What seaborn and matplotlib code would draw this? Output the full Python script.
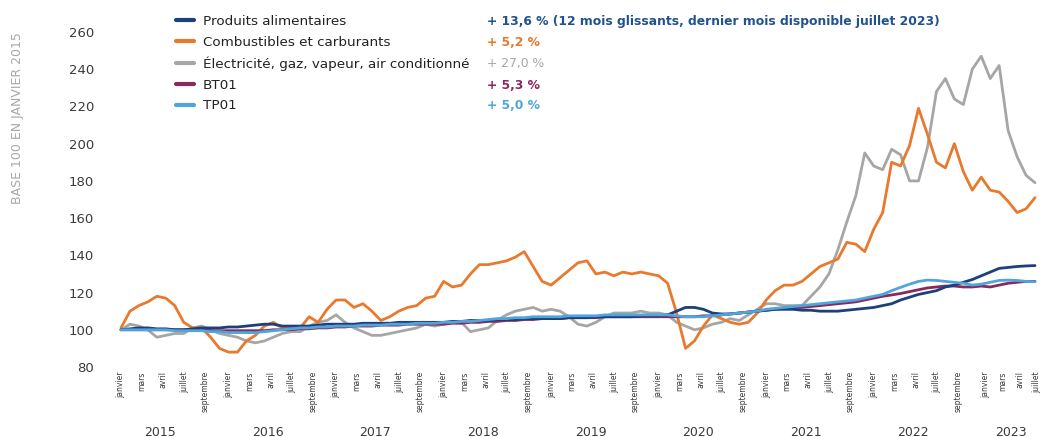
import numpy as np
import pandas as pd
import matplotlib
matplotlib.use("Agg")
import matplotlib.pyplot as plt
import seaborn as sns

# monthly index, janvier 2015 -> juillet 2023 (base 100 = janvier 2015)
months = np.arange(103)

alimentaires = [100, 100.5, 101, 101, 100.5, 100.5, 100, 100, 100.5, 101, 101, 101,
                101.5, 101.5, 102, 102.5, 103, 103, 102, 102, 102, 102, 102.5, 103,
                103, 103, 103, 103.5, 103.5, 103.5, 103.5, 104, 104, 104, 104, 104,
                104, 104.5, 104.5, 105, 105, 105, 105.5, 105.5, 105.5, 106, 106, 106,
                106, 106, 106.5, 106.5, 106.5, 107, 107, 107, 107, 107, 107.5, 107.5,
                107.5, 108, 110, 112, 112, 111, 109, 108.5, 108.5, 109, 109.5, 110,
                110.5, 111, 111, 111, 110.5, 110.5, 110, 110, 110, 110.5, 111, 111.5,
                112, 113, 114, 116, 117.5, 119, 120, 121, 123, 124, 125.5, 127,
                129, 131, 133, 133.5, 134, 134.3, 134.5]
combustibles = [101, 110, 113, 115, 118, 117, 113, 104, 101, 101, 96, 90,
                88, 88, 94, 97, 102, 104, 101, 101, 101, 107, 104, 111,
                116, 116, 112, 114, 110, 105, 107, 110, 112, 113, 117, 118,
                126, 123, 124, 130, 135, 135, 136, 137, 139, 142, 134, 126,
                124, 128, 132, 136, 137, 130, 131, 129, 131, 130, 131, 130,
                129, 125, 109, 90, 94, 102, 108, 106, 104, 103, 104, 109,
                116, 121, 124, 124, 126, 130, 134, 136, 138, 147, 146, 142,
                154, 163, 190, 188, 199, 219, 205, 190, 187, 200, 185, 175,
                182, 175, 174, 169, 163, 165, 171]
electricite = [100, 103, 102, 100, 96, 97, 98, 98, 101, 102, 100, 98,
               97, 96, 94, 93, 94, 96, 98, 99, 99, 102, 104, 105,
               108, 104, 101, 99, 97, 97, 98, 99, 100, 101, 103, 102,
               103, 104, 104, 99, 100, 101, 105, 108, 110, 111, 112, 110,
               111, 110, 107, 103, 102, 104, 107, 109, 109, 109, 110, 109,
               109, 108, 104, 102, 100, 101, 103, 104, 106, 105, 108, 111,
               114, 114, 113, 113, 113, 118, 123, 130, 143, 158, 172, 195,
               188, 186, 197, 194, 180, 180, 198, 228, 235, 224, 221, 240,
               247, 235, 242, 207, 193, 183, 179]
bt01 = [100, 100, 100, 100, 100, 100, 100, 100, 100, 100, 99.5, 99.5,
        99.5, 99.5, 99.5, 99.5, 99.5, 100, 100, 100, 100.5, 100.5, 101, 101,
        101.5, 101.5, 102, 102, 102, 102.5, 102.5, 102.5, 103, 103, 103, 103,
        103, 103.5, 103.5, 104, 104, 104.5, 104.5, 105, 105, 105.5, 105.5, 106,
        106, 106, 106.5, 106.5, 106.5, 106.5, 107, 107, 107, 107, 107, 107,
        107, 107, 107, 107, 107, 107.5, 107.5, 108, 108.5, 109, 109.5, 110,
        110.5, 111, 111.5, 112, 112, 112.5, 113, 113.5, 114, 114.5, 115, 116,
        117, 118, 118.7, 119.5, 120.5, 121.5, 122.5, 123, 123.5, 123.5, 123, 123,
        123.5, 123, 124, 125, 125.5, 126, 126]
tp01 = [100, 100, 100, 100, 100, 100, 99.5, 99.5, 99.5, 99.5, 99, 99,
        98.5, 98.5, 98.5, 98.5, 99, 99.5, 100, 100.5, 101, 101, 101.5, 101.5,
        102, 102, 102, 102.5, 102.5, 102.5, 103, 103, 103, 103.5, 103.5, 103.5,
        104, 104, 104.5, 104.5, 105, 105.5, 106, 106, 106.5, 106.5, 107, 107,
        107, 107, 107.5, 107.5, 107.5, 107.5, 108, 108, 108, 108, 108, 108,
        108, 108, 107.5, 107, 107, 107, 107.5, 108, 108.5, 109, 109.5, 110,
        111, 111.5, 112, 112.5, 113, 113.5, 114, 114.5, 115, 115.5, 116, 117,
        118, 119, 121, 122.8, 124.5, 126, 126.7, 126.5, 126, 125.5, 125, 124,
        124.5, 125.5, 126.5, 126.7, 126.5, 126, 125.8]

series_names = ["Produits alimentaires", "Combustibles et carburants",
                "Électricité, gaz, vapeur, air conditionné", "BT01", "TP01"]
series_values = [alimentaires, combustibles, electricite, bt01, tp01]
variations = ["+ 13,6 % (12 mois glissants, dernier mois disponible juillet 2023)",
              "+ 5,2 %", "+ 27,0 %", "+ 5,3 %", "+ 5,0 %"]
years = ["2015", "2016", "2017", "2018", "2019", "2020", "2021", "2022", "2023"]
month_labels = ["janvier", "mars", "avril", "juillet", "septembre"]

colors = {"Produits alimentaires": "#1d3f7c",
          "Combustibles et carburants": "#e8792d",
          "Électricité, gaz, vapeur, air conditionné": "#a6a6a6",
          "BT01": "#8a2a5c",
          "TP01": "#4fa6dd"}
text_colors = ["#21528f", "#e8792d", "#a6a6a6", "#8a2a5c", "#4fa6dd"]

df = pd.DataFrame({name: vals for name, vals in zip(series_names, series_values)})
df["mois"] = months
long_df = df.melt(id_vars="mois", var_name="indice", value_name="valeur")

sns.set_style("white")
plt.rcParams["font.family"] = ["DejaVu Sans"]

fig = plt.figure(figsize=(10.45, 4.37), dpi=100)
ax = fig.add_axes([116.5 / 1045, 70 / 437, 923 / 1045, 335 / 437])

# draw order: gray and orange underneath, indices on top
draw_order = [series_names[2], series_names[1], series_names[3], series_names[0], series_names[4]]
for name in draw_order:
    sns.lineplot(data=long_df[long_df["indice"] == name], x="mois", y="valeur",
                 color=colors[name], linewidth=2.0, label=name, ax=ax, legend=False)

ax.set_xlim(-0.5, 102.5)
ax.set_ylim(80, 260)
ax.set_yticks(np.arange(80, 261, 20))
ax.tick_params(axis="y", length=0, pad=16, labelsize=9.5, labelcolor="#3a3a3a")
sns.despine(ax=ax, left=True, bottom=True)
ax.set_xlabel("")
ax.set_ylabel("")

# month ticks under each year
tick_pos, tick_lab = [], []
for k in range(8):
    for j, lab in enumerate(month_labels):
        tick_pos.append(12 * k + j * 2.35)
        tick_lab.append(lab)
for off, lab in zip([0.5, 2.4, 4.3, 6.2], month_labels[:4]):
    tick_pos.append(96 + off)
    tick_lab.append(lab)
ax.set_xticks(tick_pos)
ax.set_xticklabels(tick_lab, rotation=90, fontsize=5.5, color="#3a3a3a")
ax.tick_params(axis="x", length=0, pad=3)

for k, yr in enumerate(years):
    xc = 12 * k + (3.3 if yr == "2023" else 4.4)
    ax.text(xc, -0.195, yr, transform=ax.get_xaxis_transform(), ha="center",
            va="center", fontsize=9, color="#3a3a3a")

fig.text(18 / 1045, 1 - 118 / 437, "BASE 100 EN JANVIER 2015", rotation=90,
         ha="center", va="center", fontsize=9, color="#a8a8a8")

# legend in original order, variation texts aligned on the right
handles, labels = ax.get_legend_handles_labels()
lookup = dict(zip(labels, handles))
leg = ax.legend([lookup[n] for n in series_names], series_names,
                loc="upper left", bbox_to_anchor=(176 / 1045, 1 - 15 / 437),
                bbox_transform=fig.transFigure, frameon=False, fontsize=9.7,
                handlelength=1.3, handletextpad=0.7, labelspacing=0.57,
                borderpad=0, borderaxespad=0)
for line in leg.get_lines():
    line.set_linewidth(3)
for t in leg.get_texts():
    t.set_color("#222222")

fig.canvas.draw()
inv = fig.transFigure.inverted()
for t, txt, col in zip(leg.get_texts(), variations, text_colors):
    bb = t.get_window_extent()
    yc = inv.transform((0, (bb.y0 + bb.y1) / 2))[1]
    fig.text(487 / 1045, yc, txt, ha="left", va="center", fontsize=8.9,
             color=col, fontweight="normal" if col == "#a6a6a6" else "bold")

fig.savefig("out.png", dpi=100)
